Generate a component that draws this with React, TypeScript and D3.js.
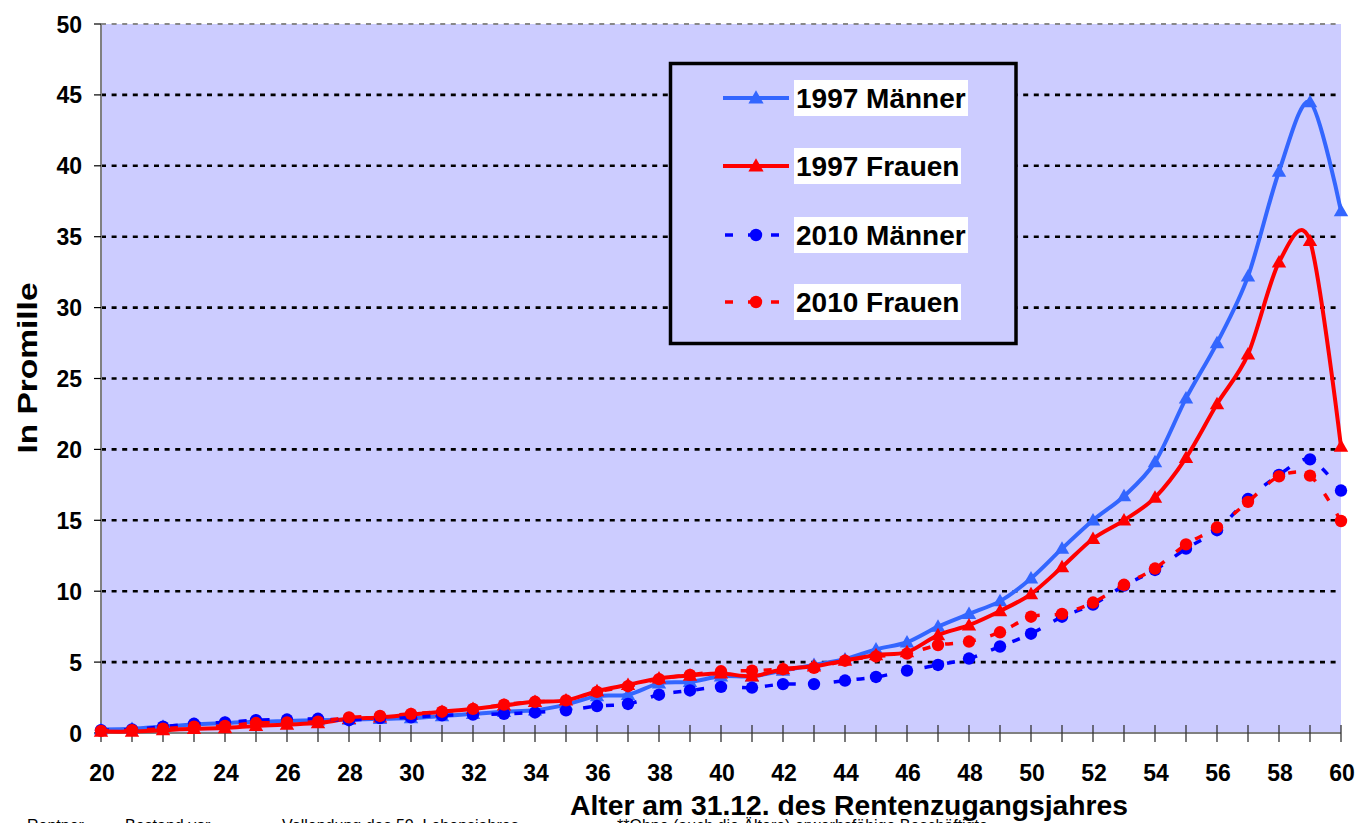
import React from "react";
import * as d3 from "d3";

const ages = [20,21,22,23,24,25,26,27,28,29,30,31,32,33,34,35,36,37,38,39,40,41,42,43,44,45,46,47,48,49,50,51,52,53,54,55,56,57,58,59,60];
const xTickLabels = [20,22,24,26,28,30,32,34,36,38,40,42,44,46,48,50,52,54,56,58,60];
const yTicks = [0,5,10,15,20,25,30,35,40,45,50];

const maenner1997 = [0.25,0.3,0.45,0.6,0.7,0.8,0.85,0.9,0.95,1.0,1.05,1.2,1.35,
  1.5,1.6,2.0,2.6,2.7,3.5,3.6,4.0,4.0,4.4,4.8,5.2,5.9,
  6.4,7.5,8.4,9.3,10.9,13.0,15.0,16.7,19.1,23.6,27.5,32.2,39.6,44.5,36.8];
const frauen1997 = [0.1,0.1,0.2,0.3,0.35,0.5,0.6,0.7,1.0,1.1,1.3,1.5,1.7,
  1.95,2.2,2.3,2.95,3.4,3.85,4.05,4.2,4.0,4.5,4.7,5.1,5.5,
  5.7,6.9,7.6,8.6,9.8,11.7,13.7,15.0,16.6,19.4,23.2,26.7,33.2,34.7,20.2];
const maenner2010 = [0.2,0.25,0.45,0.65,0.75,0.9,0.95,1.0,0.9,1.05,1.1,1.25,1.3,
  1.35,1.45,1.6,1.9,2.05,2.7,3.0,3.25,3.2,3.45,3.45,3.7,3.95,
  4.4,4.8,5.25,6.1,7.0,8.2,9.05,10.4,11.5,13.0,14.3,16.5,18.2,19.3,17.1];
const frauen2010 = [0.15,0.2,0.3,0.45,0.5,0.7,0.75,0.8,1.1,1.2,1.35,1.5,1.7,
  2.0,2.2,2.3,2.9,3.3,3.8,4.1,4.35,4.4,4.5,4.6,5.1,5.4,
  5.6,6.2,6.45,7.1,8.2,8.4,9.2,10.45,11.6,13.3,14.5,16.3,18.1,18.15,14.95];

const seriesNames = ["1997 Männer","1997 Frauen","2010 Männer","2010 Frauen"];

const FONT = "'Liberation Sans', Arial, sans-serif";

export default function App() {
  const W = 1360, H = 823;
  const x = d3.scaleLinear().domain([20, 60]).range([101, 1341]);
  const y = d3.scaleLinear().domain([0, 50]).range([733, 24]);

  const series = [
    { name: seriesNames[0], values: maenner1997, color: "#3366FF", dash: null, marker: "tri", width: 4 },
    { name: seriesNames[1], values: frauen1997, color: "#FF0000", dash: null, marker: "tri", width: 4 },
    { name: seriesNames[2], values: maenner2010, color: "#0000FF", dash: "8,15", marker: "circle", width: 3.5 },
    { name: seriesNames[3], values: frauen2010, color: "#FF0000", dash: "8,15", marker: "circle", width: 3.5 },
  ];

  const line = d3.line<number>()
    .x((_, i) => x(ages[i]))
    .y((d) => y(d))
    .curve(d3.curveCardinal.tension(0.1));

  const tri = d3.symbol(d3.symbolTriangle, 90)();
  const triLegend = d3.symbol(d3.symbolTriangle, 100)();

  const marker = (s: any, cx: number, cy: number, key: any, legend = false) =>
    s.marker === "tri" ? (
      <path key={key} d={legend ? triLegend! : tri!} transform={`translate(${cx},${cy + 1})`} fill={s.color} />
    ) : (
      <circle key={key} cx={cx} cy={cy} r={6.2} fill={s.color} />
    );

  const legendY = [98, 166, 235, 302];
  const labelBoxW = [174, 167, 174, 167];

  return (
    <div style={{ position: "absolute", left: 0, top: 0, width: W, height: H, overflow: "hidden", background: "#fff" }}>
      <svg width={W} height={H} style={{ display: "block", fontFamily: FONT }}>
        <rect x={101} y={24} width={1341 - 101} height={733 - 24} fill="#CCCCFF" />
        {yTicks.filter((t) => t > 0).map((t) => (
          <line key={"g" + t} x1={101} x2={1341} y1={y(t)} y2={y(t)}
            stroke={t === 50 ? "#888" : "#000"} strokeWidth={t === 50 ? 2 : 2.6} strokeDasharray="5,5.6" />
        ))}
        {/* axes */}
        <line x1={101} x2={101} y1={24} y2={733} stroke="#808080" strokeWidth={2} />
        <line x1={101} x2={1341} y1={733} y2={733} stroke="#808080" strokeWidth={2} />
        {yTicks.map((t) => (
          <g key={"yt" + t}>
            <line x1={94} x2={101} y1={y(t)} y2={y(t)} stroke="#000" strokeWidth={1.2} />
            <text x={82} y={y(t) + 8.5} textAnchor="end" fontSize={23} fontWeight="bold">{t}</text>
          </g>
        ))}
        {ages.map((a) => (
          <line key={"xt" + a} x1={x(a)} x2={x(a)} y1={725} y2={742} stroke="#333" strokeWidth={1.3} />
        ))}
        {xTickLabels.map((a) => (
          <text key={"xl" + a} x={x(a) + 1} y={781} textAnchor="middle" fontSize={23} fontWeight="bold">{a}</text>
        ))}
        {/* series */}
        {series.map((s, si) => (
          <g key={"s" + si}>
            <path d={line(s.values)!} fill="none" stroke={s.color} strokeWidth={s.width}
              strokeDasharray={s.dash || undefined} strokeLinejoin="round" />
            {s.values.map((v, i) => marker(s, x(ages[i]), y(v), i))}
          </g>
        ))}
        {/* legend */}
        <rect x={670.5} y={63.5} width={345.5} height={280} fill="#CCCCFF" stroke="#000" strokeWidth={3.5} />
        {series.map((s, i) => (
          <g key={"lg" + i}>
            <line x1={s.dash ? 725 : 723} x2={789} y1={legendY[i]} y2={legendY[i]} stroke={s.color}
              strokeWidth={s.dash ? 3.5 : 4} strokeDasharray={s.dash || undefined} />
            {marker(s, 756, legendY[i], "m", true)}
            <rect x={794} y={legendY[i] - 18} width={labelBoxW[i]} height={36} fill="#fff" />
            <text x={796} y={legendY[i] + 10} fontSize={28} fontWeight="bold">{s.name}</text>
          </g>
        ))}
        {/* titles */}
        <text x={849} y={815} textAnchor="middle" fontSize={28} fontWeight="bold"
          textLength={558} lengthAdjust="spacingAndGlyphs">Alter am 31.12. des Rentenzugangsjahres</text>
        <text transform="translate(37,368) rotate(-90)" textAnchor="middle" fontSize={28} fontWeight="bold"
          textLength={171} lengthAdjust="spacingAndGlyphs">In Promille</text>
        <text y={831} fontSize={16}>
          <tspan x={27}>Rentner =</tspan>
          <tspan x={125}>Bestand vor</tspan>
          <tspan x={282}>Vollendung des 50. Lebensjahres</tspan>
          <tspan x={617}>**Ohne (auch die Ältere) erwerbsfähige Beschäftigte</tspan>
        </text>
      </svg>
    </div>
  );
}
